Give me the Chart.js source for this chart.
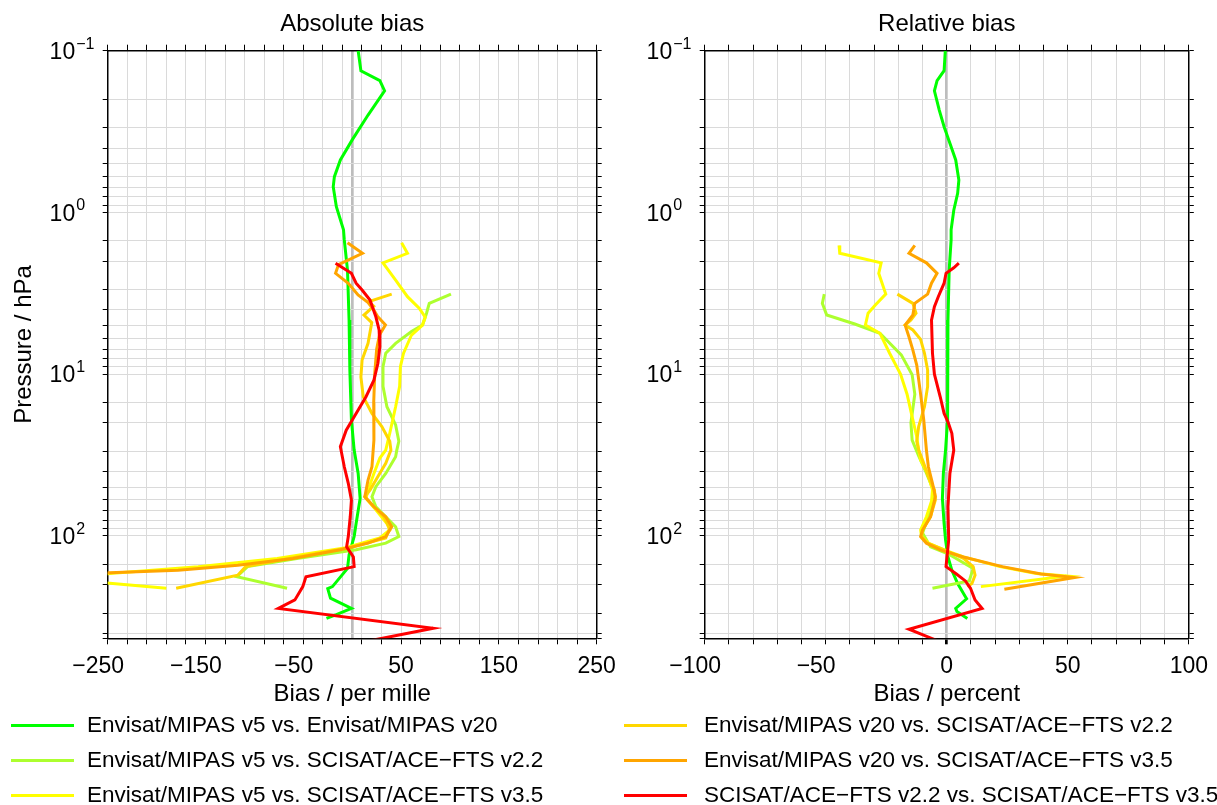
<!DOCTYPE html>
<html><head><meta charset="utf-8">
<script src="https://cdn.jsdelivr.net/npm/chart.js@4/dist/chart.umd.min.js"></script>
<style>
html,body{margin:0;padding:0;background:#fff;width:1217px;height:805px;overflow:hidden;font-family:"Liberation Sans",Arial,Helvetica,sans-serif;}
#wa{position:absolute;left:0;top:0;width:650px;height:720px;}
#wb{position:absolute;left:620px;top:0;width:597px;height:720px;}
.lt{position:absolute;font-size:22.5px;line-height:22px;color:#000;white-space:nowrap;}
.sw{position:absolute;height:3px;width:63px;}
</style></head><body>
<div id="wa"><canvas id="ca" width="650" height="720"></canvas></div>
<div id="wb"><canvas id="cb" width="597" height="720"></canvas></div>
<div id="legend"></div>
<script>
// ---------- labels / categories ----------
const seriesLabels = [
  "Envisat/MIPAS v5 vs. Envisat/MIPAS v20",
  "Envisat/MIPAS v5 vs. SCISAT/ACE\u2212FTS v2.2",
  "Envisat/MIPAS v5 vs. SCISAT/ACE\u2212FTS v3.5",
  "Envisat/MIPAS v20 vs. SCISAT/ACE\u2212FTS v2.2",
  "Envisat/MIPAS v20 vs. SCISAT/ACE\u2212FTS v3.5",
  "SCISAT/ACE\u2212FTS v2.2 vs. SCISAT/ACE\u2212FTS v3.5"
];
const panelTitles = ["Absolute bias", "Relative bias"];
const xTitles = ["Bias / per mille", "Bias / percent"];
const yTitle = "Pressure / hPa";
const absTickLabels = [-250, -150, -50, 50, 150, 250];
const relTickLabels = [-100, -50, 0, 50, 100];
const yDecadeExps = [-1, 0, 1, 2];
const zeroBias = 0;

// ---------- Absolute bias (per mille) ----------
const absP_v5_v20 = [0.1,0.133,0.153,0.177,0.25,0.356,0.474,0.601,0.693,0.922,1.28,1.48,2.27,4.63,9.43,19.2,29.5,41.1,58.7,83.8,101,131,159,206,212,243,281,307,324];
const absB_v5_v20 = [6.1,8.9,28.3,33.1,16.2,0,-12.1,-18.2,-19.4,-16.2,-8.9,-8.1,-4.8,-3.2,-2.4,-0.8,2.0,6.1,8.1,4.0,2.0,-3.2,-4.8,-20.2,-25,-22.2,-0.8,-16.2,-26.3];

const absP_v5_a22 = [3.2,3.65,4.2,4.97,5.45,6.45,7.43,8.99,11.9,15.9,20.6,26,29.5,32.4,41.1,49.6,57.3,66.1,76.2,87.9,101,111,122,138,155,179,211];
const absB_v5_a22 = [101,78.8,76,71.9,60.6,44.4,34.3,31.5,31.5,35.5,44.4,47.7,45.6,44.4,34.3,24.2,20.2,24.2,34.3,44.4,47.7,34.3,4.0,-56.5,-107,-118,-66.6];

const absP_v5_a35 = [1.54,1.79,2.05,2.62,3.32,3.92,4.45,4.97,5.73,7.43,8.99,11.9,15.9,23.2,29.5,33,41.1,52.1,58.7,69,83.8,92,103,119,138,155,171,186,211];
const absB_v5_a35 = [50.5,56.5,31.5,44.4,56.5,68.7,74.7,71.9,60.6,52.5,49.3,48.5,44.4,38.4,34.3,28.3,22.2,16.2,14.1,24.2,35.5,38.4,28.3,-8.1,-76.7,-157.5,-248,-290,-190];

const absP_v20_a22 = [3.2,3.56,3.8,4.31,4.8,6.45,8.18,10.4,13.8,17.5,21.1,26,29.5,35.6,43,52.1,57.3,66.1,76.2,90,103,119,135,155,175,211];
const absB_v20_a22 = [40.4,17,22,12,20,16.2,10.1,8.9,11.3,20.2,30.3,38.4,39.6,34.3,26.3,18.2,12.9,22.2,32.3,38.4,34.3,-4,-56.5,-109,-117,-180];

const absP_v20_a35 = [1.54,1.79,2.1,2.38,2.74,3.24,3.6,4.0,4.4,4.97,5.7,7,10,15,25.6,37.4,45.2,57.3,66.1,76.2,87.9,101,111,122,138,152,163,169,172];
const absB_v20_a35 = [-4.8,10.5,-14,-17,-4,6,16,22,26,34,28,25,23,22,22.2,20.2,16.2,12.9,22.2,34.3,40.4,34.3,16.2,-12.1,-60.6,-117,-178,-248,-290];

const absP_a22_a35 = [2.06,2.38,2.74,3.02,3.48,4.42,5.33,6.77,8.57,10.9,13.8,17.5,22.2,28.1,37.4,47.3,60.1,76.2,101,117,135,155,179,206,249,281,373,450];
const absB_a22_a35 = [-17,-0.8,4.0,10.1,18.2,24.2,27.5,28.3,26.3,22.2,14.1,4.0,-6.1,-12.1,-8.1,-4.0,-0.8,-2.0,-4.0,-5.7,1.2,2.0,-47.3,-50.5,-58.6,-75.5,82.8,14];

// ---------- Relative bias (percent) ----------
const relP_v5_v20 = [0.1,0.133,0.153,0.177,0.233,0.295,0.374,0.474,0.631,0.762,0.97,1.28,1.48,2.27,4.63,9.43,19.2,29.5,41.1,58.7,83.8,106,135,163,197,238,245,281,294,324];
const relB_v5_v20 = [-0.6,-1.1,-4.0,-5.1,-3.1,-1.1,1.3,3.7,5.0,4.5,2.9,1.8,1.8,1.0,0.5,0.5,0.2,-0.5,-1.4,-1.8,-1.1,-0.5,0.5,2.1,4.5,7.7,8.2,3.7,4.2,8.5];

const relP_v5_a22 = [3.2,3.65,4.31,4.9,5.59,7.6,10.1,13.3,20,25.6,32,41,54,76,96,117,129,159,190,211];
const relB_v5_a22 = [-50.6,-51.4,-49.6,-38,-27.6,-18.8,-14.3,-13.2,-14.8,-14.3,-11.6,-8.4,-5.1,-7.6,-10,-6.7,0.5,10.9,9.3,-5.9];

const relP_v5_a35 = [1.6,1.79,2.05,2.38,3.2,3.75,4.2,4.97,5.59,7.43,10,13.3,19.2,24.4,29.5,34,41.1,52,61,76.2,92.1,101,111,122,135,155,171,177,206];
const relB_v5_a35 = [-44.5,-44.2,-27.1,-28.1,-25.2,-29.6,-32.5,-33.6,-27.6,-23.6,-19.1,-16.4,-14,-12.4,-11.6,-10.8,-7.9,-5.9,-6.3,-8.4,-10.8,-10.4,-7.6,-1.1,6.9,22,37,49.5,14.1];

const relP_v20_a22 = [3.2,3.65,4.2,4.63,4.97,5.33,6.1,7.43,9.43,11.9,15.9,21.1,26,29.5,34,43,52,60,76,92,101,111,122,138,155,175,197,206];
const relB_v20_a22 = [-20.4,-14,-12.7,-14.8,-17.2,-14,-10.8,-9.2,-7.9,-7.9,-9.2,-11.6,-12.4,-11.6,-10,-7.6,-5.1,-4.7,-6.7,-10,-10.4,-7.9,-1.1,6.9,10.9,11.7,10.4,8.5];

const relP_v20_a35 = [1.6,1.79,2.05,2.38,2.74,3.2,3.65,4.31,4.97,5.9,7.1,8.8,13.3,19.2,29.5,37.4,47.3,57.3,76.2,92,101,111,122,135,155,172,181,214];
const relB_v20_a35 = [-13.2,-15.6,-8.4,-4.0,-6.3,-7.9,-13.2,-14,-17.2,-15.6,-14,-12.4,-10.8,-9.5,-8.4,-7.6,-5.9,-4.7,-6.7,-10,-10.8,-8.4,-2.7,6.9,23,39,52.7,23.8];

const relP_a22_a35 = [2.06,2.2,2.38,2.74,3.32,3.83,4.63,7.43,10,13.8,17.5,19.7,23.2,29.5,41.1,66.1,106,155,172,190,211,249,281,378,430,450];
const relB_a22_a35 = [5.0,2.9,-0.3,-1.1,-3.5,-5.1,-6.3,-5.9,-5.1,-2.7,-1.1,0.5,2.1,2.9,1.3,0.5,0.8,-0.3,4.0,7.7,9.8,11.7,14.6,-15.6,-6.3,-3];

// ---------- styles ----------
const seriesColors = ["#00ff00", "#adff2f", "#ffff00", "#ffd700", "#ffa500", "#ff0000"];
const FONT = '"Liberation Sans", Arial, Helvetica, sans-serif';

const absSeries = [[absP_v5_v20,absB_v5_v20],[absP_v5_a22,absB_v5_a22],[absP_v5_a35,absB_v5_a35],[absP_v20_a22,absB_v20_a22],[absP_v20_a35,absB_v20_a35],[absP_a22_a35,absB_a22_a35]];
const relSeries = [[relP_v5_v20,relB_v5_v20],[relP_v5_a22,relB_v5_a22],[relP_v5_a35,relB_v5_a35],[relP_v20_a22,relB_v20_a22],[relP_v20_a35,relB_v20_a35],[relP_a22_a35,relB_a22_a35]];

function buildDatasets(series){
  return series.map((s, i) => ({
    label: seriesLabels[i],
    data: s[0].map((p, k) => ({x: s[1][k], y: p})),
    borderColor: seriesColors[i],
    backgroundColor: seriesColors[i],
    borderWidth: 3,
    pointRadius: 0,
    tension: 0,
    fill: false,
    order: 10 - i
  }));
}

function fmtTick(v){
  return v < 0 ? '\u2212' + Math.abs(v) + '   ' : String(v);
}

function makeTicks(labels, step){
  const min = labels[0], max = labels[labels.length-1];
  const vals = [];
  const n = Math.round((max - min) / step);
  for (let k = 0; k <= n; k++) vals.push(Math.round((min + k*step)*1000)/1000);
  if (!vals.includes(zeroBias)) { vals.push(zeroBias); vals.sort((a, b) => a - b); }
  return vals;
}

const yLabelPlugin = {
  id: 'ydecadelabels',
  afterDraw(chart){
    const s = chart.scales.y, ctx = chart.ctx;
    const x = chart.chartArea.left - 32.5;
    ctx.save();
    ctx.fillStyle = '#000';
    yDecadeExps.forEach(e => {
      const y = s.getPixelForValue(Math.pow(10, e));
      ctx.font = '23px ' + FONT;
      ctx.textAlign = 'right';
      ctx.textBaseline = 'alphabetic';
      ctx.fillText('10', x, y + 8.1);
      ctx.font = '16px ' + FONT;
      ctx.textAlign = 'left';
      ctx.fillText(e < 0 ? '\u2212' + (-e) : String(e), x + 1, y - 2);
    });
    ctx.restore();
  }
};

function makeChart(id, series, opt){
  const tickVals = makeTicks(opt.labels, opt.step);
  const onGrid = (v) => tickVals.includes(v) && (v - opt.labels[0]) % opt.step === 0;
  const gridColor = (c) => (c.tick && c.tick.value === zeroBias) ? '#bdbdbd' : '#dadada';
  const gridWidth = (c) => (c.tick && c.tick.value === zeroBias) ? 2.7 : 1;
  const tickColor = (c) => (c.tick && !onGrid(c.tick.value)) ? 'rgba(0,0,0,0)' : '#000';
  const xCommon = {
    type: 'linear', min: opt.labels[0], max: opt.labels[opt.labels.length-1],
    afterBuildTicks: (sc) => { sc.ticks = tickVals.map(v => ({value: v})); },
    border: {display: true, color: '#000', width: 1.5}
  };
  const yCommon = {
    type: 'logarithmic', min: 0.1, max: 430, reverse: true,
    border: {display: true, color: '#000', width: 1.5}
  };
  return new Chart(document.getElementById(id), {
    type: 'line',
    data: {datasets: buildDatasets(series)},
    options: {
      responsive: false, animation: false, maintainAspectRatio: false,
      layout: {padding: 0},
      plugins: {legend: {display: false}, tooltip: {enabled: false}, title: {display: false}},
      scales: {
        x: Object.assign({}, xCommon, {
          position: 'bottom',
          grid: {color: gridColor, lineWidth: gridWidth, tickColor: tickColor, tickLength: 6, drawTicks: true},
          ticks: {autoSkip: false, maxRotation: 0, minRotation: 0, padding: 9, color: '#000',
                  font: {family: FONT, size: 23},
                  callback: (v) => opt.labels.includes(v) ? fmtTick(v) : ''},
          title: {display: true, text: opt.xTitle, color: '#000', font: {family: FONT, size: 24, lineHeight: 1}, padding: {top: 0, bottom: 14}},
          afterFit: (sc) => { sc.height = 720 - 638.3; }
        }),
        x2: Object.assign({}, xCommon, {
          position: 'top',
          grid: {drawOnChartArea: false, tickColor: tickColor, tickLength: 6, drawTicks: true},
          ticks: {display: false},
          title: {display: true, text: opt.title, color: '#000', font: {family: FONT, size: 24, lineHeight: 1}, padding: {top: 12.5, bottom: 0}},
          afterFit: (sc) => { sc.height = 50.7; }
        }),
        y: Object.assign({}, yCommon, {
          position: 'left',
          grid: {color: '#dadada', lineWidth: 1, tickColor: '#000', tickLength: 5, drawTicks: true},
          ticks: {display: false},
          title: {display: !!opt.yTitle, text: opt.yTitle || '', color: '#000', font: {family: FONT, size: 24, lineHeight: 1}, padding: {top: 12, bottom: 0}},
          afterFit: (sc) => { sc.width = opt.leftW; }
        }),
        y2: Object.assign({}, yCommon, {
          position: 'right',
          grid: {drawOnChartArea: false, tickColor: '#000', tickLength: 5, drawTicks: true},
          ticks: {display: false},
          afterFit: (sc) => { sc.width = opt.rightW; }
        })
      }
    },
    plugins: [yLabelPlugin]
  });
}

makeChart('ca', absSeries, {labels: absTickLabels, step: 20, xTitle: xTitles[0], title: panelTitles[0], yTitle: yTitle, leftW: 107.7, rightW: 650 - 596.7});
makeChart('cb', relSeries, {labels: relTickLabels, step: 10, xTitle: xTitles[1], title: panelTitles[1], yTitle: null, leftW: 84.7, rightW: 597 - 573.3});

// ---------- HTML legend ----------
const legendCols = [{sw: 11, tx: 87}, {sw: 624, tx: 704}];
const legendRows = [725, 760, 795];
const leg = document.getElementById('legend');
seriesLabels.forEach((lab, i) => {
  const col = legendCols[Math.floor(i / 3)], rowY = legendRows[i % 3];
  const sw = document.createElement('div');
  sw.className = 'sw';
  sw.style.left = col.sw + 'px'; sw.style.top = (rowY - 1.5) + 'px';
  sw.style.background = seriesColors[i];
  leg.appendChild(sw);
  const t = document.createElement('div');
  t.className = 'lt';
  t.style.left = col.tx + 'px'; t.style.top = (rowY - 10.9) + 'px';
  t.textContent = lab;
  leg.appendChild(t);
});
</script>
</body></html>
